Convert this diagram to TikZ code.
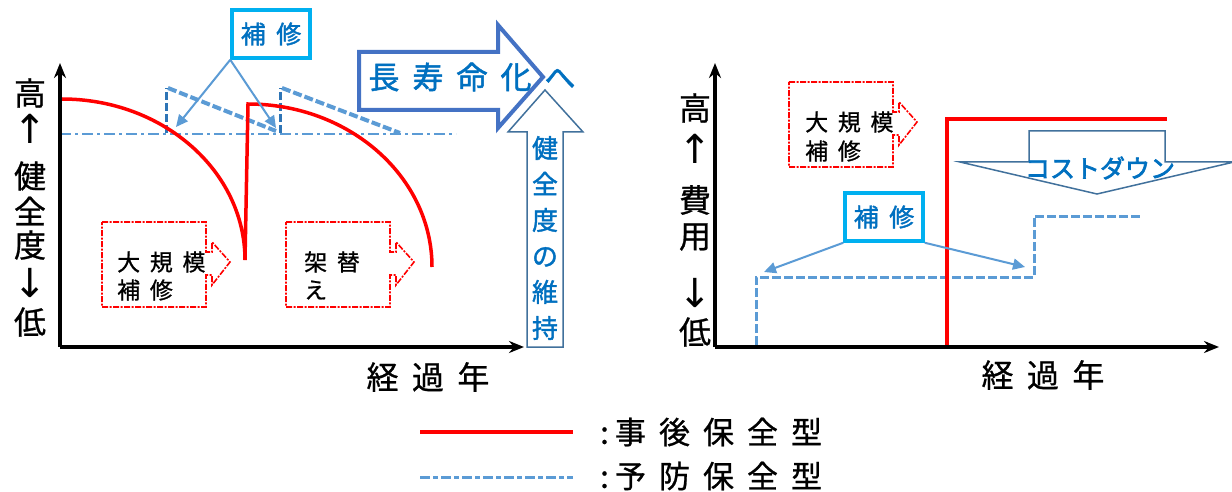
\documentclass[tikz,border=0pt]{standalone}
\usepackage{fontspec}
\setmainfont[FakeBold=0.8]{Noto Sans CJK JP}
\newfontfamily\jpbold[FakeBold=2.5]{Noto Sans CJK JP}
\newfontfamily\jpmed[FakeBold=1.5]{Noto Sans CJK JP}
\newfontfamily\arrfont{DejaVu Sans}
\usetikzlibrary{arrows.meta}
\definecolor{cred}{HTML}{FF0000}
\definecolor{ccyan}{HTML}{00B0F0}
\definecolor{ctext}{HTML}{0070C0}
\definecolor{clight}{HTML}{5B9BD5}
\definecolor{cdark}{HTML}{2E75B6}
\definecolor{cbig}{HTML}{4472C4}
\definecolor{cthin}{HTML}{41719C}
\newcommand\gp{\hspace{0.42em}}
\newcommand\fs[2]{\fontsize{#1}{#2}\selectfont}
\begin{document}
\begin{tikzpicture}[x=1pt,y=-1pt,
  axis/.style={black,line width=3.5pt,-{Stealth[length=15pt,width=12pt]}},
  redline/.style={cred,line width=3.5pt},
  callout/.style={cred,line width=1.6pt,dash pattern=on 6pt off 1.5pt on 2pt off 1.5pt},
  hosyu/.style={draw=ccyan,line width=3.5pt,fill=white,minimum width=78pt,minimum height=48pt,inner sep=0pt,text=ctext,font=\jpmed\fs{25}{25}},
  ptr/.style={clight,line width=2pt,-{Triangle[length=12pt,width=11pt]}},
  axlbl/.style={inner sep=0pt,align=center},
  ych/.style={inner sep=0pt,font=\fs{32}{32}},
  yarr/.style={inner sep=0pt,font=\arrfont\fs{40}{40}},
  boxtxt/.style={inner sep=0pt,anchor=west,font=\fs{23}{23}},
  prevent/.style={clight,line width=3pt,dash pattern=on 9pt off 3pt},
  dashdotl/.style={clight,line width=2pt,dash pattern=on 11pt off 4pt on 3pt off 4pt},
  saw/.style={clight,line width=4pt,dash pattern=on 9pt off 3pt},
  sawv/.style={cdark,line width=3pt,dash pattern=on 8pt off 3pt},
  redcall/.pic={\draw[callout] (0,0) -- (104,0) -- (104,30) -- (110,30) -- (110,20) -- (128,40) -- (110,63) -- (110,53) -- (104,53) -- (104,85) -- (0,85) -- cycle;}
]
\fill[white] (0,0) rectangle (1232,492);
\useasboundingbox (0,0) rectangle (1232,492);

% ---------------- left chart ----------------
\draw[dashdotl] (60,134) -- (456,134);
\draw[sawv] (166,133) -- (166,88);
\draw[sawv] (280,133) -- (280,88);
\draw[saw] (168,88) -- (276,131);
\draw[saw] (282,88) -- (400,133);

\draw[redline] (62,99) arc[start angle=-90,end angle=0,x radius=183,y radius=161]
  -- (248,104) arc[start angle=-90,end angle=0,x radius=184,y radius=163];

\coordinate (oL) at (60,347);
\draw[axis] (oL) -- (60,63);
\draw[axis] (oL) -- (524,347);

\node[ych] (yL1) at (30,93) {高};
\node[yarr] (yL2) at (30,129) {↑};
\node[ych] (yL3) at (30,176) {健};
\node[ych] (yL4) at (30,211) {全};
\node[ych] (yL5) at (30,245) {度};
\node[yarr] (yL6) at (30,283) {↓};
\node[ych] (yL7) at (30,322) {低};
\node[axlbl,font=\fs{32}{32}] (xlabL) at (428,377) {経\gp{}過\gp{}年};

\pic at (102,222) {redcall};
\pic at (286,222) {redcall};
\node[boxtxt] (dk1) at (117,262) {大\gp{}規\gp{}模};
\node[boxtxt] (dk2) at (117,290) {補\gp{}修};
\node[boxtxt] (kk1) at (304,262) {架\gp{}替};
\node[boxtxt] (kk2) at (304,290) {え};

\node[hosyu] (hosyuL) at (271,34) {補\gp{}修};
\coordinate (pL1) at (176,127);
\coordinate (pL2) at (276,128);
\draw[ptr] (hosyuL.south west) -- (pL1);
\draw[ptr] (hosyuL.south west) -- (pL2);

% long-life arrow
\draw[cbig,line width=4pt,fill=white,line join=miter]
  (359,52) -- (498,52) -- (498,25) -- (543,77) -- (498,128) -- (498,110) -- (359,110) -- cycle;
% health maintenance arrow
\draw[cthin,line width=1.5pt,fill=white]
  (545,90) -- (583,132) -- (563,132) -- (563,347) -- (527,347) -- (527,132) -- (508,132) -- cycle;
\node[inner sep=0pt,text=ctext,font=\jpmed\fs{31}{31}] (life) at (472,77) {長\gp{}寿\gp{}命\gp{}化\gp{}へ};
\node[axlbl,text=ctext,font=\jpmed\fs{26}{36}] (kenzen) at (545,238) {健\\全\\度\\の\\維\\持};

% ---------------- right chart ----------------
\draw[prevent] (756,345) -- (756,277) -- (1034,277) -- (1034,216) -- (1142,216);
\draw[redline] (947,345) -- (947,119) -- (1167,119);

\coordinate (oR) at (715,347);
\draw[axis] (oR) -- (715,63);
\draw[axis] (oR) -- (1219,347);

\node[ych] (yR1) at (695,108) {高};
\node[yarr] (yR2) at (695,149) {↑};
\node[ych] (yR3) at (695,200) {費};
\node[ych] (yR4) at (695,237) {用};
\node[yarr] (yR5) at (695,293) {↓};
\node[ych] (yR6) at (695,332) {低};
\node[axlbl,font=\fs{32}{32}] (xlabR) at (1043,375) {経\gp{}過\gp{}年};

\pic at (789,82) {redcall};
\node[boxtxt] (dk3) at (805,122) {大\gp{}規\gp{}模};
\node[boxtxt] (dk4) at (805,151) {補\gp{}修};

% cost down arrow
\draw[cthin,line width=1.5pt,fill=white]
  (1029,131) -- (1165,131) -- (1165,162) -- (1234,162) -- (1097,194) -- (960,162) -- (1029,162) -- cycle;
\node[inner sep=0pt,text=ctext,font=\jpbold\fs{25}{25}] (cost) at (1100,168) {コストダウン};

\node[hosyu] (hosyuR) at (884,217) {補\gp{}修};
\coordinate (pR1) at (764,272);
\coordinate (pR2) at (1025,267);
\draw[ptr] (hosyuR.south west) -- (pR1);
\draw[ptr] (hosyuR.south east) -- (pR2);

% ---------------- legend ----------------
\coordinate (lg1a) at (420,432);
\coordinate (lg1b) at (573,432);
\coordinate (lg2a) at (420,477);
\coordinate (lg2b) at (573,477);
\draw[cred,line width=4pt] (lg1a) -- (lg1b);
\draw[clight,line width=3pt,dash pattern=on 10pt off 3pt on 5pt off 3pt] (lg2a) -- (lg2b);
\node[inner sep=0pt,anchor=west,font=\fs{31}{31}] (lgt1) at (600,432) {:\hspace{0.2em}事\gp{}後\gp{}保\gp{}全\gp{}型};
\node[inner sep=0pt,anchor=west,font=\fs{31}{31}] (lgt2) at (600,476) {:\hspace{0.2em}予\gp{}防\gp{}保\gp{}全\gp{}型};
\end{tikzpicture}
\end{document}
